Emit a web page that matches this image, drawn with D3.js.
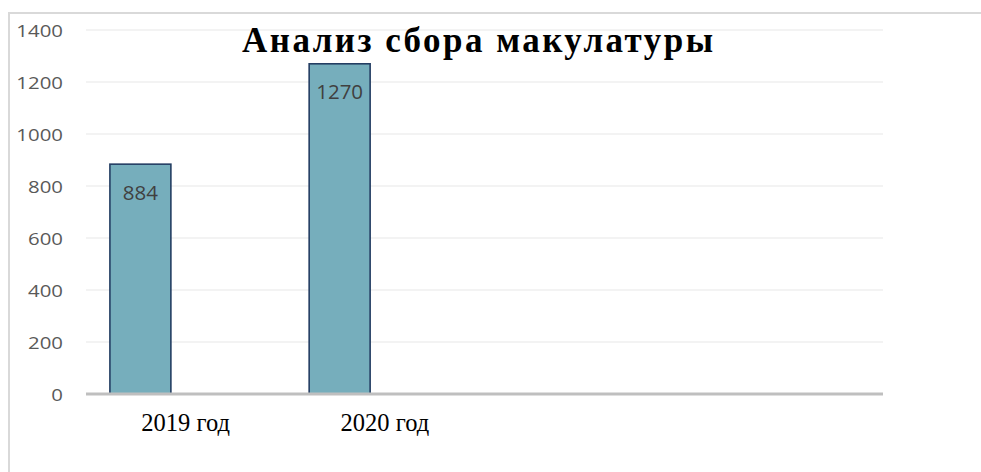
<!DOCTYPE html>
<html>
<head>
<meta charset="utf-8">
<script src="https://cdn.jsdelivr.net/npm/d3@7"></script>
<style>
  html, body { margin: 0; padding: 0; background: #fff; }
  svg { display: block; }
</style>
</head>
<body>
<svg id="chart" width="981" height="472"></svg>
<script>
// Collected waste paper, kg per year
const categories = ["2019 год", "2020 год", "", ""];
const values = [884, 1270, null, null];
const yTicks = [0, 200, 400, 600, 800, 1000, 1200, 1400];
const title = "Анализ сбора макулатуры";

const svg = d3.select("#chart");
const W = 981, H = 472;
const plot = { left: 86, right: 883, top: 30, bottom: 394 };

// chart frame
svg.append("path")
  .attr("d", `M9,${H + 2} L9,13 L${W + 2},13`)
  .attr("fill", "none")
  .attr("stroke", "#d9d9d9")
  .attr("stroke-width", 2);

const x = d3.scaleBand()
  .domain(d3.range(categories.length))
  .range([plot.left, plot.right])
  .paddingInner(0)
  .paddingOuter(0);

const y = d3.scaleLinear()
  .domain([0, 1400])
  .range([plot.bottom, plot.top]);

// horizontal gridlines
svg.append("g")
  .selectAll("line")
  .data(yTicks.filter(t => t > 0))
  .join("line")
  .attr("x1", plot.left)
  .attr("x2", plot.right)
  .attr("y1", d => y(d))
  .attr("y2", d => y(d))
  .attr("stroke", "#efefef")
  .attr("stroke-width", 1.6);

// y axis labels, slightly widened like the original office font
const labelRight = 63;
const yAxis = svg.append("g")
  .attr("transform", `translate(${labelRight},0) scale(1.2,1)`)
  .call(d3.axisLeft(y).tickValues(yTicks).tickSize(0).tickPadding(0).tickFormat(d3.format("d")));
yAxis.select(".domain").remove();
yAxis.selectAll("text")
  .attr("fill", "#595959")
  .attr("font-family", "'Open Sans', 'Noto Sans', sans-serif")
  .attr("font-size", 17)
  .attr("dy", "0.36em")
  .attr("x", 0);

// bars
const bw = x.bandwidth();
const barOffset = bw * 0.12;
const barWidth = bw * 0.306;
const barData = values.map((v, i) => ({ i, v })).filter(d => d.v != null);

svg.append("g")
  .selectAll("rect")
  .data(barData)
  .join("rect")
  .attr("x", d => x(d.i) + barOffset)
  .attr("y", d => y(d.v))
  .attr("width", barWidth)
  .attr("height", d => y(0) - y(d.v))
  .attr("fill", "#76aebc")
  .attr("stroke", "#243e63")
  .attr("stroke-width", 1.6);

// value labels inside the bars
svg.append("g")
  .selectAll("text")
  .data(barData)
  .join("text")
  .attr("x", d => x(d.i) + barOffset + barWidth / 2)
  .attr("y", d => y(d.v) + 28)
  .attr("dy", "0.36em")
  .attr("text-anchor", "middle")
  .attr("fill", "#404040")
  .attr("font-family", "'Open Sans', 'Noto Sans', sans-serif")
  .attr("font-size", 20.5)
  .text(d => d.v);

// category axis
svg.append("line")
  .attr("x1", plot.left)
  .attr("x2", plot.right)
  .attr("y1", y(0))
  .attr("y2", y(0))
  .attr("stroke", "#bfbfbf")
  .attr("stroke-width", 3);

const xAxis = svg.append("g")
  .attr("transform", `translate(0,${y(0)})`)
  .call(d3.axisBottom(x).tickSize(0).tickPadding(0).tickFormat(i => categories[i]));
xAxis.select(".domain").remove();
xAxis.selectAll("text")
  .attr("y", 37)
  .attr("dy", 0)
  .attr("fill", "#000")
  .attr("font-family", "'Liberation Serif', 'Times New Roman', serif")
  .attr("font-size", 24.5);

// title
svg.append("text")
  .attr("x", 242)
  .attr("y", 52)
  .attr("textLength", 471)
  .attr("lengthAdjust", "spacing")
  .attr("fill", "#000")
  .attr("font-family", "'Liberation Serif', 'Times New Roman', serif")
  .attr("font-weight", "bold")
  .attr("font-size", 35)
  .text(title);
</script>
</body>
</html>
